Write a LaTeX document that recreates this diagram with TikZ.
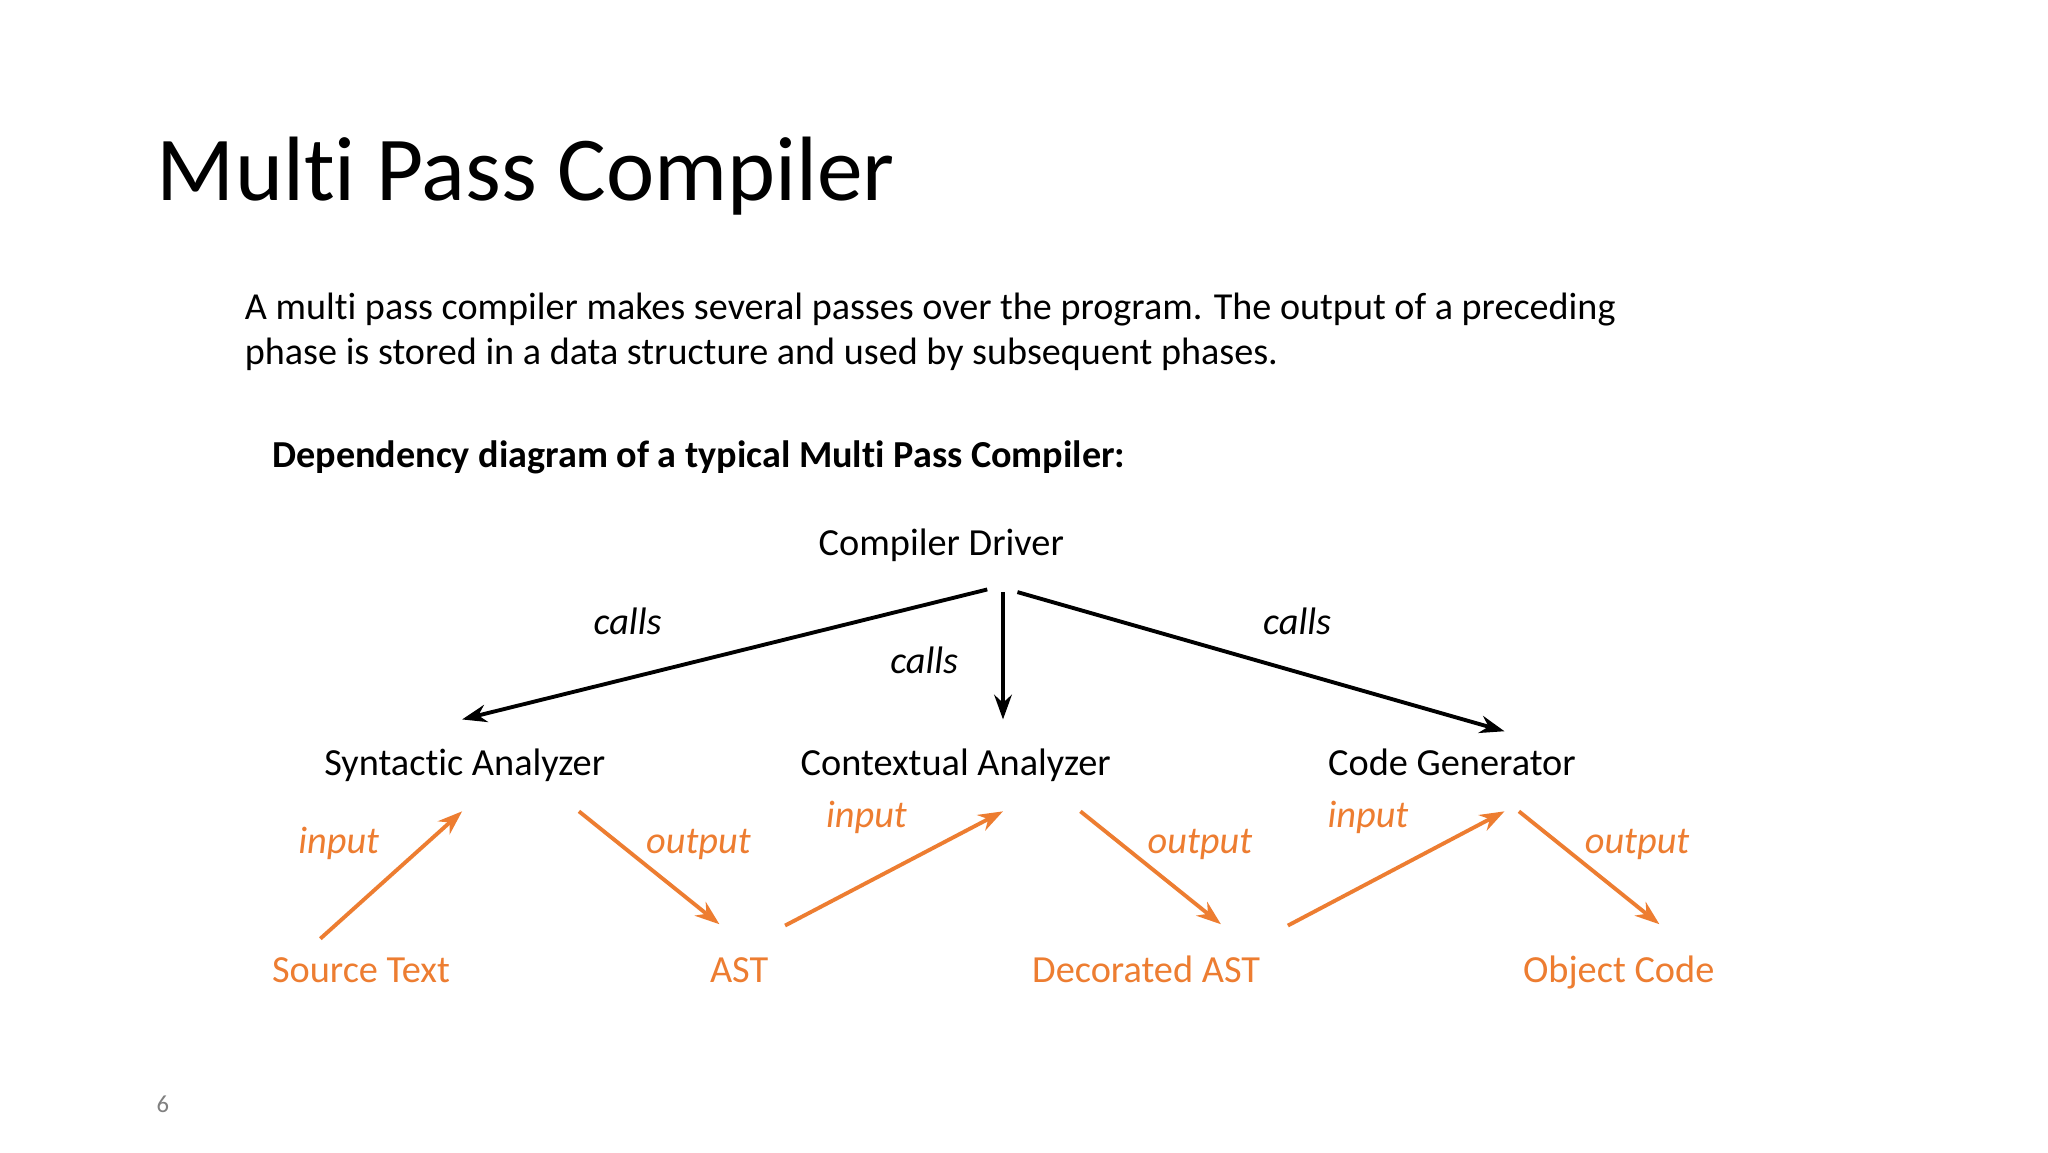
\documentclass[tikz,border=0pt]{standalone}
\usepackage{fontspec}
\setmainfont{Carlito}[Ligatures={NoCommon}]
\usetikzlibrary{arrows.meta}
\definecolor{org}{HTML}{ED7D31}
\begin{document}
\begin{tikzpicture}[x=0.013128cm,y=-0.013128cm,
 lab/.style={inner sep=0pt,anchor=base,font=\fontsize{10.9pt}{12pt}\selectfont},
 olab/.style={lab,text=org},
 il/.style={lab,text=org,font=\fontsize{10.9pt}{12pt}\selectfont\itshape},
 cl/.style={lab,font=\fontsize{10.9pt}{12pt}\selectfont\itshape},
 blk/.style={line width=1.1pt,-{Stealth[length=7pt,width=5pt]}},
 ora/.style={line width=1.1pt,draw=org,-{Stealth[length=7pt,width=5pt]}}]
\useasboundingbox[fill=white] (0,0) rectangle (1560,877.5);
\node[anchor=base west,inner sep=0pt,font=\fontsize{26pt}{30pt}\selectfont] (title) at (119,153) {Multi Pass Compiler};
\node[anchor=base west,inner sep=0pt,font=\fontsize{10.85pt}{12pt}\selectfont] (p1) at (186,243) {A multi pass compiler makes several passes over the program. The output of a preceding};
\node[anchor=base west,inner sep=0pt,font=\fontsize{10.85pt}{12pt}\selectfont] (p2) at (186,278) {phase is stored in a data structure and used by subsequent phases.};
\node[anchor=base west,inner sep=0pt,font=\fontsize{10.85pt}{12pt}\selectfont\bfseries] (hd) at (207,356) {Dependency diagram of a typical Multi Pass Compiler:};
\node[lab] (drv) at (717,423) {Compiler Driver};
\node[lab] (syn) at (354,591) {Syntactic Analyzer};
\node[lab] (ctx) at (728,591) {Contextual Analyzer};
\node[lab] (gen) at (1106,591) {Code Generator};
\node[olab] (src) at (275,748) {Source Text};
\node[olab] (ast) at (563,748) {AST};
\node[olab] (dast) at (873,748) {Decorated AST};
\node[olab] (obj) at (1233,748) {Object Code};
\node[cl] (c1) at (478,483) {calls};
\node[cl] (c2) at (704,513) {calls};
\node[cl] (c3) at (988,483) {calls};
\node[il] (i1) at (258,650) {input};
\node[il] (o1) at (532,650) {output};
\node[il] (i2) at (660,630) {input};
\node[il] (o2) at (914,650) {output};
\node[il] (i3) at (1042,630) {input};
\node[il] (o3) at (1247,650) {output};
\node[inner sep=0pt,text=gray,font=\fontsize{7pt}{8pt}\selectfont] (pg) at (124,841) {6};
\coordinate (a1) at (752,449); \coordinate (b1) at (352,548);
\coordinate (a2) at (764,451); \coordinate (b2) at (764,548);
\coordinate (a3) at (775,451); \coordinate (b3) at (1146,557);
\draw[blk] (a1) -- (b1);
\draw[blk] (a2) -- (b2);
\draw[blk] (a3) -- (b3);
\coordinate (s1) at (244,715); \coordinate (e1) at (352,618);
\coordinate (s2) at (441,618); \coordinate (e2) at (548,704);
\coordinate (s3) at (598,705); \coordinate (e3) at (764,618);
\coordinate (s4) at (823,618); \coordinate (e4) at (930,704);
\coordinate (s5) at (981,705); \coordinate (e5) at (1146,618);
\coordinate (s6) at (1157,618); \coordinate (e6) at (1264,704);
\draw[ora] (s1) -- (e1);
\draw[ora] (s2) -- (e2);
\draw[ora] (s3) -- (e3);
\draw[ora] (s4) -- (e4);
\draw[ora] (s5) -- (e5);
\draw[ora] (s6) -- (e6);
\end{tikzpicture}
\end{document}
